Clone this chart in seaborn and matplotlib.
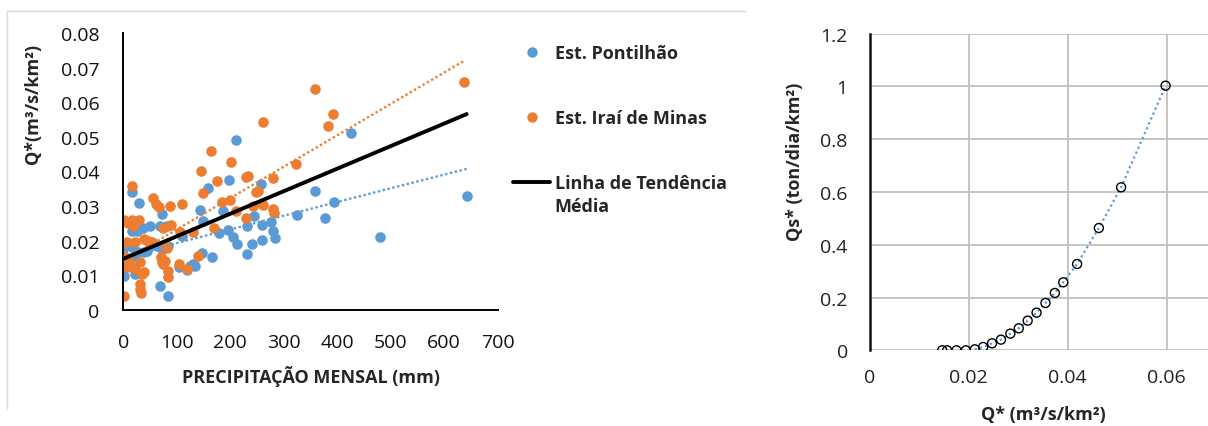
import numpy as np
import pandas as pd
import matplotlib
matplotlib.use("Agg")
import matplotlib.pyplot as plt
from matplotlib.lines import Line2D
import seaborn as sns

# --- Est. Pontilhão: monthly precipitation (mm) and specific discharge Q* (m3/s/km2)
pont_precip = [426, 642, 358, 394, 377, 480, 324, 211, 198, 159, 258, 16, 29, 72,
               186, 245, 231, 260, 276, 280, 283, 260, 240, 231, 213, 205, 196, 178,
               149, 144, 147, 166, 131, 124, 119, 105, 110, 81, 68, 50, 36, 26, 16,
               63, 56, 72, 84, 69, 84, 28, 38, 44, 19, 16, 0, 1, 22, 3, 0, 0, 134, 19]
pont_q = [0.0511, 0.0330, 0.0344, 0.0311, 0.0266, 0.0209, 0.0274, 0.0490, 0.0375,
          0.0353, 0.0363, 0.0341, 0.0308, 0.0277, 0.0286, 0.0272, 0.0241, 0.0245,
          0.0253, 0.0228, 0.0207, 0.0202, 0.0190, 0.0160, 0.0190, 0.0209, 0.0230,
          0.0222, 0.0257, 0.0288, 0.0163, 0.0151, 0.0132, 0.0127, 0.0116, 0.0123,
          0.0212, 0.0243, 0.0241, 0.0241, 0.0235, 0.0228, 0.0228, 0.0185, 0.0187,
          0.0175, 0.0185, 0.0068, 0.0040, 0.0166, 0.0166, 0.0170, 0.0151, 0.0180,
          0.0137, 0.0098, 0.0103, 0.0185, 0.0175, 0.0127, 0.0127, 0.0233]

# --- Est. Iraí de Minas
irai_precip = [358, 392, 382, 637, 322, 262, 164, 145, 201, 176, 149, 229, 233, 279,
               251, 248, 17, 56, 62, 66, 88, 110, 184, 200, 211, 243, 261, 280, 281,
               230, 170, 139, 120, 104, 131, 106, 89, 75, 30, 16, 1, 9, 19, 38, 47,
               53, 22, 6, 78, 81, 71, 78, 75, 84, 84, 1, 31, 31, 34, 35, 38, 31, 1,
               3, 6, 16, 22, 9, 72]
irai_q = [0.0638, 0.0567, 0.0531, 0.0657, 0.0420, 0.0542, 0.0458, 0.0402, 0.0427,
          0.0371, 0.0336, 0.0384, 0.0386, 0.0381, 0.0343, 0.0339, 0.0357, 0.0323,
          0.0305, 0.0296, 0.0301, 0.0307, 0.0310, 0.0316, 0.0286, 0.0301, 0.0303,
          0.0291, 0.0281, 0.0264, 0.0236, 0.0156, 0.0118, 0.0133, 0.0224, 0.0226,
          0.0246, 0.0236, 0.0260, 0.0259, 0.0258, 0.0251, 0.0243, 0.0204, 0.0199,
          0.0195, 0.0197, 0.0195, 0.0185, 0.0177, 0.0151, 0.0142, 0.0132, 0.0113,
          0.0094, 0.0040, 0.0074, 0.0060, 0.0048, 0.0103, 0.0108, 0.0137, 0.0156,
          0.0132, 0.0123, 0.0123, 0.0118, 0.0147, 0.0137]

# linear trendlines: [slope per mm, intercept]
pont_trend = [3.96e-5, 0.0153]
irai_trend = [9.08e-5, 0.0141]

# --- sediment rating: Q* (m3/s/km2) vs Qs* (ton/dia/km2)
rating_q = [0.0146, 0.0156, 0.0175, 0.0194, 0.0212, 0.0229, 0.0247, 0.0265, 0.0284,
            0.0301, 0.0319, 0.0337, 0.0355, 0.0374, 0.0391, 0.0419, 0.0463, 0.0508,
            0.0598]
rating_qs = [0.0, 0.0, 0.0, 0.0, 0.0038, 0.0126, 0.0265, 0.0404, 0.0632, 0.0834,
             0.1124, 0.1427, 0.1794, 0.2173, 0.2577, 0.3272, 0.4636, 0.6177, 1.0029]

left_xticks = [0, 100, 200, 300, 400, 500, 600, 700]
left_yticks = [0, 0.01, 0.02, 0.03, 0.04, 0.05, 0.06, 0.07, 0.08]
right_xticks = [0, 0.02, 0.04, 0.06]
right_yticks = [0, 0.2, 0.4, 0.6, 0.8, 1.0, 1.2]

BLUE = "#5b9bd5"
ORANGE = "#ed7d31"

sns.set_style("white")
plt.rcParams["font.family"] = ["Open Sans", "DejaVu Sans"]

W, H = 1208, 427
fig = plt.figure(figsize=(W / 100, H / 100), dpi=100)


def fx(px):
    return px / W


def fy(py):
    return 1 - py / H


# chart-area frame of the precipitation chart (left and top edges)
frame_kw = dict(transform=fig.transFigure, color="#d9d9d9", lw=1.0)
fig.add_artist(Line2D([fx(7), fx(7)], [fy(410), fy(12)], **frame_kw))
fig.add_artist(Line2D([fx(7), fx(745)], [fy(12), fy(12)], **frame_kw))

# ---------------- left chart ----------------
ax1 = fig.add_axes([fx(123.3), fy(310.7), fx(497.7) - fx(123.3), fy(34) - fy(310.7)])
pont = pd.DataFrame({"precip": pont_precip, "q": pont_q})
irai = pd.DataFrame({"precip": irai_precip, "q": irai_q})

sns.scatterplot(data=pont, x="precip", y="q", ax=ax1, color=BLUE, s=58,
                linewidth=0, legend=False, zorder=2)
sns.scatterplot(data=irai, x="precip", y="q", ax=ax1, color=ORANGE, s=58,
                linewidth=0, legend=False, zorder=2)

mean_trend = [(pont_trend[0] + irai_trend[0]) / 2, (pont_trend[1] + irai_trend[1]) / 2]
x_pont = np.array([0, max(pont_precip)])
x_irai = np.array([0, max(irai_precip)])
x_mean = np.array([0, max(max(pont_precip), max(irai_precip))])
dot = (0, (1, 1.1))
sns.lineplot(x=x_pont, y=pont_trend[0] * x_pont + pont_trend[1], ax=ax1,
             color=BLUE, lw=1.7, linestyle=dot, zorder=3)
sns.lineplot(x=x_irai, y=irai_trend[0] * x_irai + irai_trend[1], ax=ax1,
             color=ORANGE, lw=1.7, linestyle=dot, zorder=3)
sns.lineplot(x=x_mean, y=mean_trend[0] * x_mean + mean_trend[1], ax=ax1,
             color="black", lw=2.8, zorder=4)

ax1.set_xlim(0, 700)
ax1.set_ylim(0, 0.08)
ax1.set_xticks(left_xticks)
ax1.set_yticks(left_yticks)
ax1.set_xticklabels([f"{v:g}" for v in left_xticks])
ax1.set_yticklabels([f"{v:g}" for v in left_yticks])
for side in ("top", "right"):
    ax1.spines[side].set_visible(False)
for side in ("left", "bottom"):
    ax1.spines[side].set_color("black")
    ax1.spines[side].set_linewidth(1.4)
ax1.tick_params(axis="both", direction="in", length=4, width=1.2, color="black",
                labelsize=14, labelcolor="#111111")
ax1.tick_params(axis="y", pad=17)
ax1.tick_params(axis="x", pad=17)
ax1.set_xlabel("PRECIPITAÇÃO MENSAL (mm)", fontsize=13, fontweight="bold", labelpad=10)
ax1.set_ylabel("Q*(m³/s/km²)", fontsize=13, fontweight="bold")
ax1.yaxis.set_label_coords(-0.217, 0.747)
ax1.patch.set_alpha(0)

handles = [
    Line2D([], [], ls="none", marker="o", markersize=7.5, markerfacecolor=BLUE,
           markeredgewidth=0),
    Line2D([], [], ls="none", marker="o", markersize=7.5, markerfacecolor=ORANGE,
           markeredgewidth=0),
    Line2D([], [], color="black", lw=2.8),
]
leg = fig.legend(handles, ["Est. Pontilhão", "Est. Iraí de Minas", "Linha de Tendência"],
                 loc="upper left", bbox_to_anchor=(fx(513), fy(45)),
                 frameon=False, borderpad=0, borderaxespad=0, handlelength=2.05,
                 handletextpad=0.25, labelspacing=2.6,
                 prop={"family": ["Open Sans", "DejaVu Sans"], "weight": "bold",
                       "size": 13})
fig.canvas.draw()
last = leg.get_texts()[-1].get_window_extent()
fig.text(last.x0 / fig.dpi / fig.get_figwidth(), (last.y0 - 5) / fig.dpi / fig.get_figheight(),
         "Média", fontsize=13, fontweight="bold", ha="left", va="top")

# ---------------- right chart ----------------
ax2 = fig.add_axes([fx(870), fy(351.3), fx(1216) - fx(870), fy(34.7) - fy(351.3)])
rating = pd.DataFrame({"q": rating_q, "qs": rating_qs})
sns.lineplot(data=rating.iloc[4:], x="q", y="qs", ax=ax2, color=BLUE, lw=1.6,
             linestyle=(0, (1, 1.4)), zorder=3)
sns.scatterplot(data=rating, x="q", y="qs", ax=ax2, marker="o", s=42,
                facecolor="none", edgecolor="black", linewidth=1.0, zorder=4)

ax2.set_xlim(0, 0.07)
ax2.set_ylim(0, 1.2)
ax2.set_xticks(right_xticks)
ax2.set_yticks(right_yticks)
ax2.set_xticklabels([f"{v:g}" for v in right_xticks])
ax2.set_yticklabels([f"{v:g}" for v in right_yticks])
ax2.grid(True, color="#c0c0c0", lw=1.3)
ax2.set_axisbelow(True)
for side in ("top", "right", "bottom"):
    ax2.spines[side].set_visible(False)
ax2.spines["left"].set_color("#111111")
ax2.spines["left"].set_linewidth(1.8)
ax2.spines["left"].set_zorder(5)
ax2.tick_params(axis="both", length=0, labelsize=14, labelcolor="#222222")
ax2.tick_params(axis="y", pad=16)
ax2.tick_params(axis="x", pad=13)
ax2.set_xlabel("Q* (m³/s/km²)", fontsize=13, fontweight="bold")
ax2.set_ylabel("Qs* (ton/dia/km²)", fontsize=13, fontweight="bold")
ax2.xaxis.set_label_coords(0.5, -0.172)
ax2.yaxis.set_label_coords(-0.19, 0.598)

fig.savefig("out.png", dpi=100)
